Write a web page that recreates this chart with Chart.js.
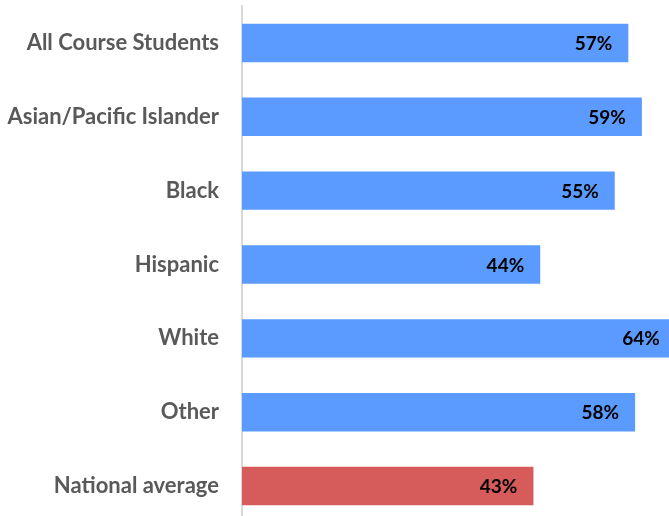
<!DOCTYPE html>
<html><head><meta charset="utf-8">
<script src="https://cdn.jsdelivr.net/npm/chart.js@4"></script>
<style>html,body{margin:0;padding:0;overflow:hidden;background:#fff;width:669px;height:516px}canvas{display:block}</style>
</head><body><canvas id="c" width="669" height="524"></canvas>
<script>
const categories = ["All Course Students","Asian/Pacific Islander","Black","Hispanic","White","Other","National average"];
const values = [57,59,55,44,64,58,43];
const barColors = ["#5b9bff","#5b9bff","#5b9bff","#5b9bff","#5b9bff","#5b9bff","#d65b5b"];
const FONT = "Lato, 'Liberation Sans', sans-serif";

const labelPlugin = {
  id:'valueLabels',
  afterDatasetsDraw(chart){
    const ctx = chart.ctx;
    const meta = chart.getDatasetMeta(0);
    const xs = chart.scales.x;
    ctx.save();
    ctx.font = "bold 19px " + FONT;
    ctx.fillStyle = "#000";
    ctx.textAlign = "right";
    ctx.textBaseline = "middle";
    meta.data.forEach((bar,i)=>{
      const xEnd = xs.getPixelForValue(values[i]);
      ctx.fillText(values[i] + "%", xEnd - 16, bar.y + 1);
    });
    ctx.restore();
  }
};

new Chart(document.getElementById('c'), {
  type:'bar',
  data:{labels:categories, datasets:[{data:values, backgroundColor:barColors, borderWidth:0, categoryPercentage:1, barPercentage:0.52}]},
  options:{
    indexAxis:'y', responsive:false, maintainAspectRatio:false, animation:false,
    layout:{padding:{top:6,bottom:1,left:0,right:0}},
    plugins:{legend:{display:false}, tooltip:{enabled:false}},
    scales:{
      x:{display:false, min:0, max:63},
      y:{
        afterFit(s){ s.width = 242; s.paddingTop = 0; s.paddingBottom = 0; },
        grid:{display:false, drawTicks:false},
        border:{display:true, color:'#d9d9d9', width:2},
        ticks:{padding:23, color:'#595959', font:{family:FONT, size:22, weight:'bold'}}
      }
    }
  },
  plugins:[labelPlugin]
});
</script></body></html>
